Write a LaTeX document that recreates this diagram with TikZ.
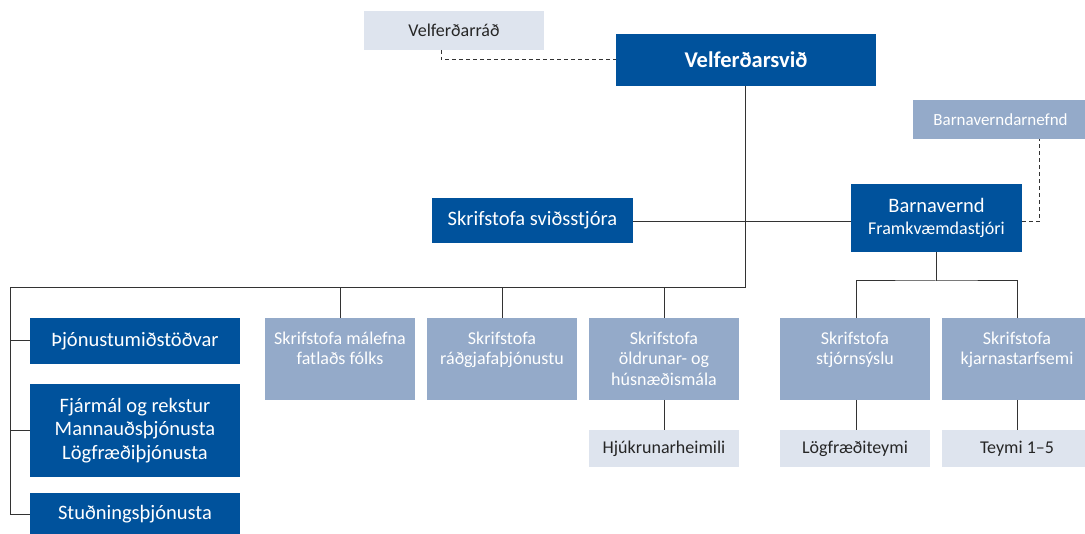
\documentclass[tikz,border=0pt]{standalone}
\usepackage{fontspec}
\setmainfont{Carlito}
\definecolor{dblue}{HTML}{00529C}
\definecolor{mblue}{HTML}{94AAC9}
\definecolor{lblue}{HTML}{DEE4EE}
\definecolor{ln}{HTML}{333333}
\definecolor{tx}{HTML}{262626}
\newcommand{\tbox}[3]{\parbox[t][#1][t]{#2}{\centering\fontsize{18}{20.5}\selectfont\rule{0pt}{26.5pt}#3}}
\begin{document}
\begin{tikzpicture}[x=1pt,y=-1pt,
  box/.style={inner sep=0pt, outer sep=0pt, align=center, anchor=north west},
  dbox/.style={box, fill=dblue, text=white, font=\fontsize{20.5}{23.3}\selectfont},
  mbox/.style={box, fill=mblue, text=white, font=\fontsize{18}{20.5}\selectfont},
  lbox/.style={box, fill=lblue, text=tx, font=\fontsize{18}{21}\selectfont},
  conn/.style={draw=ln, line width=1pt},
  dconn/.style={conn, dash pattern=on 4pt off 3pt}]
\clip (0,0) rectangle (1085,534);
\fill[white] (0,0) rectangle (1085,534);
% top level
\node[lbox, minimum width=180pt, minimum height=39pt] (vr) at (364,11) {Velferðarráð};
\node[dbox, minimum width=260pt, minimum height=52pt, font=\fontsize{22.5}{25}\selectfont\bfseries] (vs) at (616,34) {Velferðarsvið};
\node[mbox, minimum width=175pt, minimum height=39pt, font=\fontsize{17}{20}\selectfont] (bn) at (913,100) {Barnaverndarnefnd};
\node[dbox, minimum width=171pt, minimum height=68pt] (bv) at (851,184) {Barnavernd\\[-2pt]{\fontsize{18}{20}\selectfont Framkvæmdastjóri}};
\node[dbox, minimum width=201pt, minimum height=45pt] (ss) at (432,198) {Skrifstofa sviðsstjóra};
% left column
\node[dbox, minimum width=210pt, minimum height=46pt] (th) at (30,318) {Þjónustumiðstöðvar};
\node[dbox, minimum width=210pt, minimum height=93pt] (fj) at (30,384) {Fjármál og rekstur\\Mannauðsþjónusta\\Lögfræðiþjónusta};
\node[dbox, minimum width=210pt, minimum height=43pt] (st) at (30,493) {Stuðningsþjónusta};
% middle offices
\node[mbox] (m1) at (265,318) {\tbox{82pt}{150pt}{Skrifstofa málefna\\fatlaðs fólks}};
\node[mbox] (m2) at (427,318) {\tbox{82pt}{150pt}{Skrifstofa\\ráðgjafaþjónustu}};
\node[mbox] (m3) at (589,318) {\tbox{82pt}{150pt}{Skrifstofa\\öldrunar- og\\húsnæðismála}};
\node[mbox] (m4) at (780,318) {\tbox{82pt}{150pt}{Skrifstofa\\stjórnsýslu}};
\node[mbox] (m5) at (942,318) {\tbox{82pt}{150pt}{Skrifstofa\\kjarnastarfsemi}};
% lower light boxes
\node[lbox, minimum width=150pt, minimum height=37pt] (l3) at (589,430) {Hjúkrunarheimili};
\node[lbox, minimum width=150pt, minimum height=37pt] (l4) at (780,430) {Lögfræðiteymi};
\node[lbox, minimum width=150pt, minimum height=37pt] (l5) at (942,430) {Teymi 1–5};
% helper coordinates
\coordinate (trunk) at (745,288);
\coordinate (leftc) at (10,288);
\coordinate (bsplit) at (936,281);
\coordinate (hl) at (0,222);
\coordinate (dnx) at (1039,0);
% dashed links
\draw[dconn] (vr.south -| 441,0) |- (vs.west);
\draw[dconn] (bv.east |- hl) -| (bn.south -| dnx);
% main trunk
\draw[conn] (vs.south -| trunk) -- (trunk);
\draw[conn] (ss.east |- hl) -- (bv.west |- hl);
\draw[conn] (trunk) -- (leftc) |- (st.west);
\draw[conn] (leftc |- th.west) -- (th.west);
\draw[conn] (leftc |- fj.west) -- (fj.west);
\draw[conn] (m1.north) -- (m1.north |- trunk);
\draw[conn] (m2.north) -- (m2.north |- trunk);
\draw[conn] (m3.north) -- (m3.north |- trunk);
% Barnavernd branch
\draw[conn] (bv.south -| bsplit) -- (bsplit);
\draw[conn] (m4.north -| 856,0) |- (bsplit) -| (m5.north -| 1017,0);
\draw[conn] (m3.south) -- (l3.north);
\draw[conn] (m4.south -| 856,0) -- (l4.north -| 856,0);
\draw[conn] (m5.south -| 1017,0) -- (l5.north -| 1017,0);
\end{tikzpicture}
\end{document}
